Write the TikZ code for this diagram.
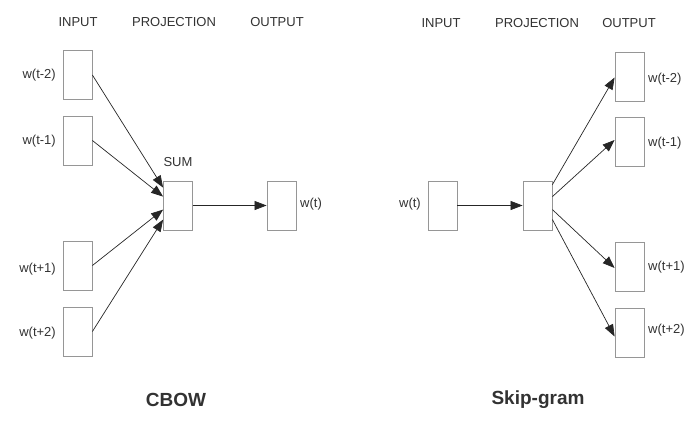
\documentclass[tikz,border=0pt]{standalone}
\usepackage{fontspec}
\setmainfont{Liberation Sans}
\usetikzlibrary{arrows.meta}

\definecolor{boxgray}{RGB}{150,150,150}
\definecolor{textgray}{RGB}{50,50,50}

\tikzset{
  wordbox/.style={draw=boxgray, line width=0.8pt, minimum width=29pt, minimum height=49pt, inner sep=0pt},
  lbl/.style={text=textgray, font=\fontsize{13}{15}\selectfont, inner sep=1pt},
  title/.style={text=textgray, font=\fontsize{19}{22}\selectfont\bfseries},
  link/.style={draw=black!85, line width=0.7pt, -{Triangle[length=12pt,width=9pt]}}
}

\begin{document}
\begin{tikzpicture}[x=1pt,y=-1pt]
\useasboundingbox (0,0) rectangle (700,420);

% CBOW
\node[lbl] (cin) at (78,22) {INPUT};
\node[lbl] (cproj) at (174,22) {PROJECTION};
\node[lbl] (cout) at (277,22) {OUTPUT};

\node[wordbox] (c1) at (77.5,75) {};
\node[wordbox] (c2) at (77.5,140.5) {};
\node[wordbox] (c3) at (77.5,265.5) {};
\node[wordbox] (c4) at (77.5,331.5) {};
\node[lbl, anchor=east] at (57,75) {w(t-2)};
\node[lbl, anchor=east] at (57,141) {w(t-1)};
\node[lbl, anchor=east] at (57,269) {w(t+1)};
\node[lbl, anchor=east] at (57,333) {w(t+2)};

\node[wordbox] (sum) at (178,205.5) {};
\node[lbl] at (178,162) {SUM};
\node[wordbox] (cw) at (281.5,205.5) {};
\node[lbl, anchor=west] at (299,204) {w(t)};

\draw[link] (c1.east) -- ([yshift=-7pt]sum.north west);
\draw[link] (c2.east) -- ([yshift=-16pt]sum.north west);
\draw[link] (c3.east) -- ([yshift=-29pt]sum.north west);
\draw[link] (c4.east) -- ([yshift=-39pt]sum.north west);
\draw[link] (sum.east) -- (cw.west);

\node[title] at (176,400) {CBOW};

% Skip-gram
\node[lbl] (sin) at (441,23) {INPUT};
\node[lbl] (sproj) at (537,23) {PROJECTION};
\node[lbl] (sout) at (629,23) {OUTPUT};

\node[wordbox] (sw) at (442.5,205.5) {};
\node[lbl, anchor=east] at (422,204) {w(t)};
\node[wordbox] (hid) at (537.5,205.5) {};

\node[wordbox] (s1) at (629.5,76.5) {};
\node[wordbox] (s2) at (629.5,141.5) {};
\node[wordbox] (s3) at (629.5,267) {};
\node[wordbox] (s4) at (629.5,332.5) {};
\node[lbl, anchor=west] at (647,79) {w(t-2)};
\node[lbl, anchor=west] at (647,143) {w(t-1)};
\node[lbl, anchor=west] at (647,267) {w(t+1)};
\node[lbl, anchor=west] at (647,330) {w(t+2)};

\draw[link] (sw.east) -- (hid.west);
\draw[link] ([yshift=-4pt]hid.north east) -- ([yshift=-1pt]s1.west);
\draw[link] ([yshift=-16pt]hid.north east) -- ([yshift=1.5pt]s2.west);
\draw[link] ([yshift=-29pt]hid.north east) -- ([yshift=-1pt]s3.west);
\draw[link] ([yshift=-39pt]hid.north east) -- ([yshift=-4pt]s4.west);

\node[title] at (538,400) {Skip-gram};
\end{tikzpicture}
\end{document}
